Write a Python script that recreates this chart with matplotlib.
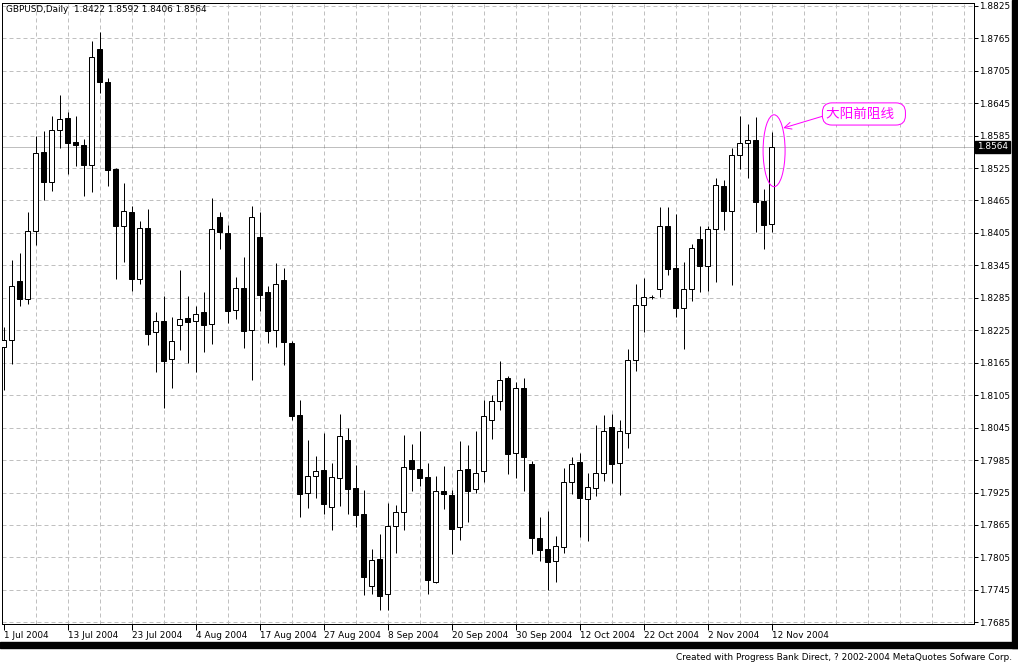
import matplotlib
matplotlib.use('Agg')
import matplotlib.pyplot as plt
from matplotlib.patches import Rectangle, Ellipse
from matplotlib.transforms import blended_transform_factory
import pandas as pd

# daily bars, 1 Jul 2004 .. 12 Nov 2004 (feed has one August day missing
# and a Sunday bar on 31 Oct)
dates = pd.bdate_range('2004-07-01', '2004-11-12')
dates = dates.drop(pd.Timestamp('2004-08-12')).append(pd.DatetimeIndex(['2004-10-31'])).sort_values()

opens = [1.8195, 1.8207, 1.8316, 1.8282, 1.8408, 1.8554, 1.8500, 1.8595, 1.8618, 1.8573,
         1.8568, 1.8531, 1.8745, 1.8684, 1.8523, 1.8417, 1.8443, 1.8320, 1.8414, 1.8221,
         1.8242, 1.8171, 1.8234, 1.8248, 1.8242, 1.8259, 1.8236, 1.8435, 1.8404, 1.8262,
         1.8303, 1.8226, 1.8398, 1.8296, 1.8226, 1.8318, 1.8202, 1.8068, 1.7924, 1.7955,
         1.7967, 1.7898, 1.7951, 1.8022, 1.7933, 1.7885, 1.7753, 1.7802, 1.7737, 1.7864,
         1.7889, 1.7985, 1.7969, 1.7954, 1.7759, 1.7927, 1.7920, 1.7861, 1.7969, 1.7931,
         1.7965, 1.8060, 1.8094, 1.8137, 1.7999, 1.8118, 1.7977, 1.7840, 1.7820, 1.7798,
         1.7824, 1.7944, 1.7981, 1.7913, 1.7933, 1.7961, 1.8046, 1.7979, 1.8036, 1.8170,
         1.8271, 1.8286, 1.8301, 1.8417, 1.8340, 1.8266, 1.8301, 1.8393, 1.8343, 1.8412,
         1.8491, 1.8445, 1.8549, 1.8571, 1.8576, 1.8464, 1.8422]
highs = [1.8232, 1.8355, 1.8368, 1.8443, 1.8584, 1.8594, 1.8621, 1.8661, 1.8629, 1.8621,
         1.8579, 1.8760, 1.8777, 1.8692, 1.8525, 1.8497, 1.8455, 1.8428, 1.8449, 1.8259,
         1.8288, 1.8250, 1.8336, 1.8288, 1.8270, 1.8296, 1.8470, 1.8443, 1.8419, 1.8324,
         1.8361, 1.8454, 1.8444, 1.8307, 1.8349, 1.8340, 1.8205, 1.8096, 1.8022, 1.7993,
         1.8036, 1.7980, 1.8071, 1.8044, 1.7976, 1.7930, 1.7821, 1.7848, 1.7906, 1.7902,
         1.8031, 1.8015, 1.8039, 1.7980, 1.7956, 1.7974, 1.7930, 1.8020, 1.8013, 1.8039,
         1.8096, 1.8105, 1.8168, 1.8141, 1.8129, 1.8136, 1.7983, 1.7880, 1.7891, 1.7845,
         1.7970, 1.7991, 1.7998, 1.7962, 1.8050, 1.8068, 1.8071, 1.8059, 1.8190, 1.8311,
         1.8321, 1.8290, 1.8453, 1.8453, 1.8440, 1.8351, 1.8385, 1.8418, 1.8418, 1.8507,
         1.8503, 1.8563, 1.8621, 1.8606, 1.8619, 1.8486, 1.8592]
lows = [1.8115, 1.8162, 1.8269, 1.8274, 1.8383, 1.8465, 1.8483, 1.8563, 1.8514, 1.8529,
        1.8473, 1.8481, 1.8664, 1.8492, 1.8319, 1.8352, 1.8298, 1.8310, 1.8198, 1.8148,
        1.8081, 1.8119, 1.8189, 1.8165, 1.8147, 1.8185, 1.8200, 1.8375, 1.8239, 1.8246,
        1.8193, 1.8134, 1.8261, 1.8202, 1.8195, 1.8161, 1.8060, 1.7880, 1.7897, 1.7914,
        1.7885, 1.7856, 1.7900, 1.7886, 1.7862, 1.7736, 1.7737, 1.7707, 1.7708, 1.7814,
        1.7855, 1.7927, 1.7937, 1.7738, 1.7757, 1.7894, 1.7812, 1.7838, 1.7871, 1.7925,
        1.7945, 1.8024, 1.8078, 1.7960, 1.7951, 1.7927, 1.7812, 1.7799, 1.7744, 1.7760,
        1.7814, 1.7923, 1.7843, 1.7836, 1.7919, 1.7947, 1.7943, 1.7921, 1.8007, 1.8150,
        1.8221, 1.8282, 1.8286, 1.8327, 1.8249, 1.8191, 1.8279, 1.8295, 1.8297, 1.8314,
        1.8410, 1.8309, 1.8523, 1.8507, 1.8407, 1.8376, 1.8406]
closes = [1.8207, 1.8306, 1.8282, 1.8408, 1.8552, 1.8500, 1.8595, 1.8616, 1.8572, 1.8568,
          1.8531, 1.8730, 1.8684, 1.8522, 1.8418, 1.8445, 1.8319, 1.8414, 1.8219, 1.8242,
          1.8169, 1.8205, 1.8245, 1.8241, 1.8255, 1.8235, 1.8412, 1.8407, 1.8261, 1.8303,
          1.8224, 1.8434, 1.8291, 1.8224, 1.8310, 1.8204, 1.8067, 1.7923, 1.7956, 1.7965,
          1.7904, 1.7954, 1.8029, 1.7932, 1.7884, 1.7768, 1.7800, 1.7734, 1.7864, 1.7889,
          1.7972, 1.7968, 1.7952, 1.7764, 1.7928, 1.7923, 1.7858, 1.7967, 1.7927, 1.7962,
          1.8067, 1.8094, 1.8133, 1.7997, 1.8118, 1.7991, 1.7840, 1.7819, 1.7796, 1.7826,
          1.7944, 1.7977, 1.7914, 1.7935, 1.7962, 1.8038, 1.7978, 1.8038, 1.8170, 1.8271,
          1.8286, 1.8286, 1.8417, 1.8339, 1.8267, 1.8301, 1.8377, 1.8343, 1.8412, 1.8493,
          1.8445, 1.8550, 1.8571, 1.8576, 1.8463, 1.8420, 1.8564]

price_levels = [1.7685, 1.7745, 1.7805, 1.7865, 1.7925, 1.7985, 1.8045, 1.8105, 1.8165,
                1.8225, 1.8285, 1.8345, 1.8405, 1.8465, 1.8525, 1.8585, 1.8645, 1.8705,
                1.8765, 1.8825]
note_text = '大阳前阻线'
footer = 'Created with Progress Bank Direct, ? 2002-2004 MetaQuotes Sofware Corp.'

W, H = 1018, 664
FS = 6.4
PX = 0.72  # one pixel in points

plt.rcParams['font.family'] = ['DejaVu Sans']
plt.rcParams['lines.scale_dashes'] = False

fig = plt.figure(figsize=(W / 100, H / 100), dpi=100)
fig.patch.set_facecolor('white')
ax = fig.add_axes([2 / W, (H - 624) / H, 972 / W, 621 / H])

n = len(closes)
ax.set_xlim(-0.2125, 121.29)
ax.set_ylim(1.76819, 1.88302)

# grid
for k in range(4, 122, 4):
    ax.axvline(k, color='#c0c0c0', lw=PX, dashes=(4 * PX, 3 * PX), zorder=0)
for lv in price_levels:
    ax.axhline(lv, color='#c0c0c0', lw=PX, dashes=(4 * PX, 3 * PX), zorder=0)

# candles
bw = 0.56
for i in range(n):
    o, h, l, c = opens[i], highs[i], lows[i], closes[i]
    ax.plot([i, i], [l, h], color='black', lw=PX, solid_capstyle='butt', zorder=2)
    bull = c >= o
    ax.add_patch(Rectangle((i - bw / 2, min(o, c)), bw, abs(c - o),
                           facecolor='white' if bull else 'black',
                           edgecolor='black', lw=PX, zorder=3))

# current price line
last = closes[-1]
ax.axhline(last, color='#808080', lw=PX, dashes=(PX, PX), zorder=1)
trans = blended_transform_factory(ax.transAxes, ax.transData)
ax.text(1.003, last, '%.4f' % last, transform=trans, color='white', fontsize=FS,
        ha='left', va='center',
        bbox=dict(boxstyle='square,pad=0.2', facecolor='black', edgecolor='black'),
        clip_on=False)

# header
ax.annotate('GBPUSD,Daily  %.4f %.4f %.4f %.4f' % (opens[-1], highs[-1], lows[-1], closes[-1]),
            xy=(0, 1), xycoords='axes fraction', xytext=(4, -2), textcoords='offset pixels',
            ha='left', va='top', fontsize=FS)

# axes, ticks
for s in ax.spines.values():
    s.set_linewidth(PX)
ax.yaxis.tick_right()
ax.set_yticks(price_levels)
ax.set_yticklabels(['%.4f' % v for v in price_levels])
ax.tick_params(axis='y', length=3, width=PX, pad=1, labelsize=FS)
xt = list(range(0, n, 8))
ax.set_xticks(xt)
ax.set_xticklabels(['%d %s' % (dates[k].day, dates[k].strftime('%b %Y')) for k in xt],
                   ha='left')
ax.tick_params(axis='x', length=4, width=PX, pad=1, labelsize=FS)

# annotation on last bar
mag = '#ff00ff'
ax.add_patch(Ellipse((n - 1 + 0.3, highs[-1] - 0.0035), 2.75, 0.0133,
                     fill=False, edgecolor=mag, lw=PX, zorder=4))
ax.annotate('', xy=(n - 1 + 1.45, highs[-1] + 0.0007), xytext=(n - 1 + 6.4, highs[-1] + 0.0029),
            arrowprops=dict(arrowstyle='->,head_length=0.5,head_width=0.25', color=mag, lw=PX,
                            shrinkA=0, shrinkB=0), zorder=4)
ax.text(n - 1 + 6.85, highs[-1] + 0.0033, note_text + '\u2002', color=mag, fontsize=9.8,
        family=['Noto Sans CJK SC', 'DejaVu Sans'], fontweight='medium',
        ha='left', va='center', zorder=5,
        bbox=dict(boxstyle='round,pad=0.3,rounding_size=0.7', facecolor='white',
                  edgecolor=mag, lw=PX))

# window frame
fig.patches.append(Rectangle((1012 / W, (H - 648) / H), 6 / W, 648 / H,
                             transform=fig.transFigure, color='black'))
fig.patches.append(Rectangle((0, (H - 648) / H), 1, 6 / H,
                             transform=fig.transFigure, color='black'))
fig.text(1012 / W, (H - 658) / H, footer, ha='right', va='center', fontsize=FS)

fig.savefig('out.png', dpi=100)
